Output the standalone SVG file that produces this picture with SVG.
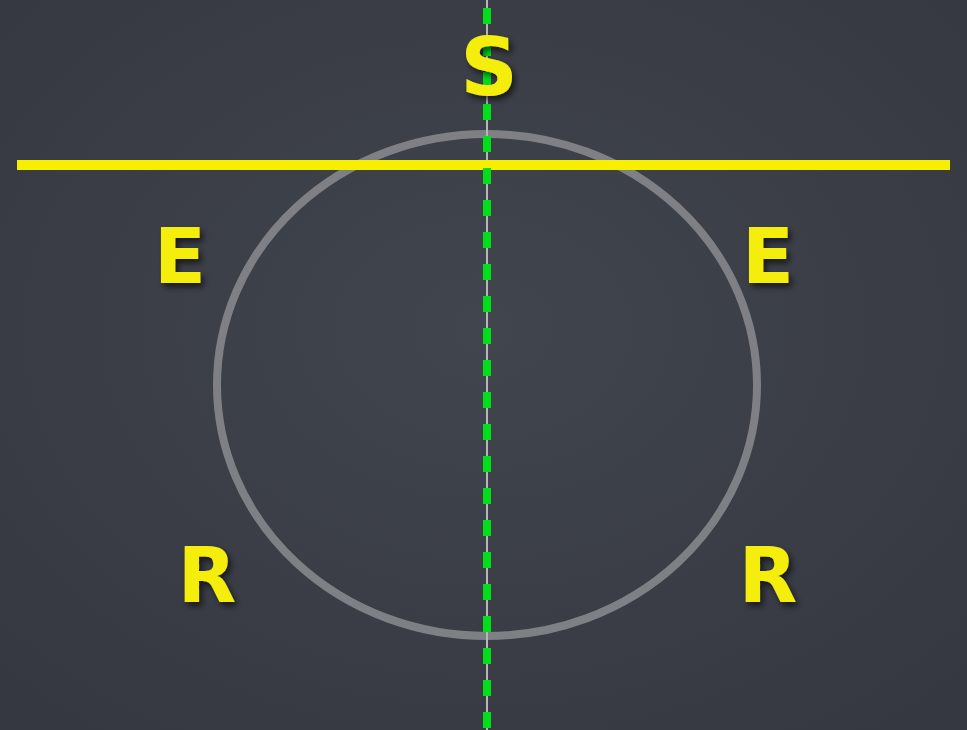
<svg xmlns="http://www.w3.org/2000/svg" width="967" height="730" viewBox="0 0 967 730">
  <defs>
    <filter id="shadow" x="-20%" y="-20%" width="140%" height="140%">
      <feDropShadow dx="3" dy="4" stdDeviation="3" flood-color="#000" flood-opacity="0.6"/>
    </filter>
    <radialGradient id="bg" cx="50%" cy="45%" r="70%">
      <stop offset="0" stop-color="#41454e"/>
      <stop offset="1" stop-color="#353840"/>
    </radialGradient>
  </defs>
  <style>
    .letter { font-family: "DejaVu Sans", sans-serif; font-weight: bold; fill: #f5ee10; text-anchor: middle; filter: url(#shadow); }
  </style>
  <rect x="0" y="0" width="967" height="730" fill="url(#bg)"/>
  <g id="circle">
    <ellipse cx="487" cy="385" rx="270" ry="251" fill="none" stroke="#8a8c91" stroke-opacity="0.85" stroke-width="8"/>
  </g>
  <g id="connectors">
    <line x1="487" y1="0" x2="487" y2="730" stroke="#b4b6ba" stroke-width="2"/>
    <line x1="17" y1="165" x2="950" y2="165" stroke="#f7ef00" stroke-width="10"/>
    <line x1="487" y1="8" x2="487" y2="730" stroke="#00e01a" stroke-width="8" stroke-dasharray="16 16"/>
  </g>
  <g id="label-S"><text class="letter" x="489" y="95" font-size="80">S</text></g>
  <g id="label-E-left"><text class="letter" x="180" y="283" font-size="76">E</text></g>
  <g id="label-E-right"><text class="letter" x="768" y="283" font-size="76">E</text></g>
  <g id="label-R-left"><text class="letter" x="207" y="602" font-size="76">R</text></g>
  <g id="label-R-right"><text class="letter" x="768" y="602" font-size="76">R</text></g>
</svg>
